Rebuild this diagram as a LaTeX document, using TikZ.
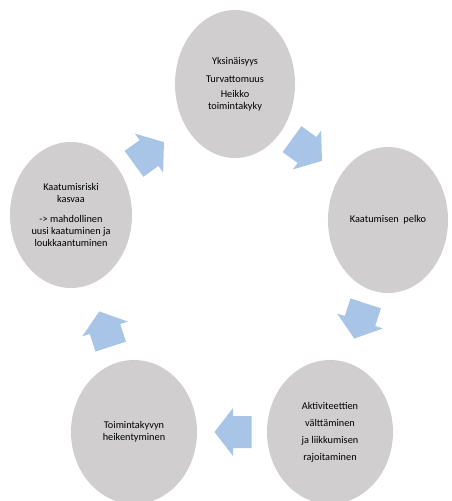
\documentclass[tikz,border=0pt]{standalone}
\usepackage{fontspec}
\setmainfont{Carlito}
\usetikzlibrary{shapes.geometric}
\definecolor{bubblegray}{RGB}{208,206,206}
\definecolor{cycblue}{RGB}{168,196,230}
\newcommand\cyclearrow[3]{%
  \coordinate (#1) at (#2);
  \fill[cycarrow, shift={(#1)}, rotate=#3]
    (-18.5,-16) -- (0,-16) -- (0,-24) -- (18.5,0) -- (0,24) -- (0,16) -- (-18.5,16) -- cycle;}
\begin{document}
\begin{tikzpicture}[x=1pt,y=-1pt,
  bubble/.style={ellipse, fill=bubblegray, inner sep=0pt, align=center,
    font=\fontsize{10.3}{12}\selectfont, text=black},
  cycarrow/.style={fill=cycblue}]
\useasboundingbox (0,0) rectangle (451,501);
\node[bubble, minimum width=120pt, minimum height=148pt] (top) at (235,84)
  {Yksinäisyys\\[6pt]Turvattomuus\\[3pt]Heikko\\toimintakyky};
\node[bubble, minimum width=120pt, minimum height=146pt] (right) at (388,220)
  {Kaatumisen~ pelko};
\node[bubble, minimum width=126pt, minimum height=144pt] (botright) at (330,432)
  {Aktiviteettien\\[5pt]välttäminen\\[5pt]ja liikkumisen\\[5pt]rajoitaminen};
\node[bubble, minimum width=126pt, minimum height=144pt] (botleft) at (134,432)
  {Toimintakyvyn\\heikentyminen};
\node[bubble, minimum width=122pt, minimum height=146pt] (left) at (71,215)
  {Kaatumisriski\\kasvaa\\[8pt]-> mahdollinen\\uusi kaatuminen ja\\loukkaantuminen};
\cyclearrow{a1}{149,153}{36}
\cyclearrow{a2}{307,150}{-36}
\cyclearrow{a3}{360,321}{-108}
\cyclearrow{a4}{233,432}{180}
\cyclearrow{a5}{105,329}{108}
\end{tikzpicture}
\end{document}
